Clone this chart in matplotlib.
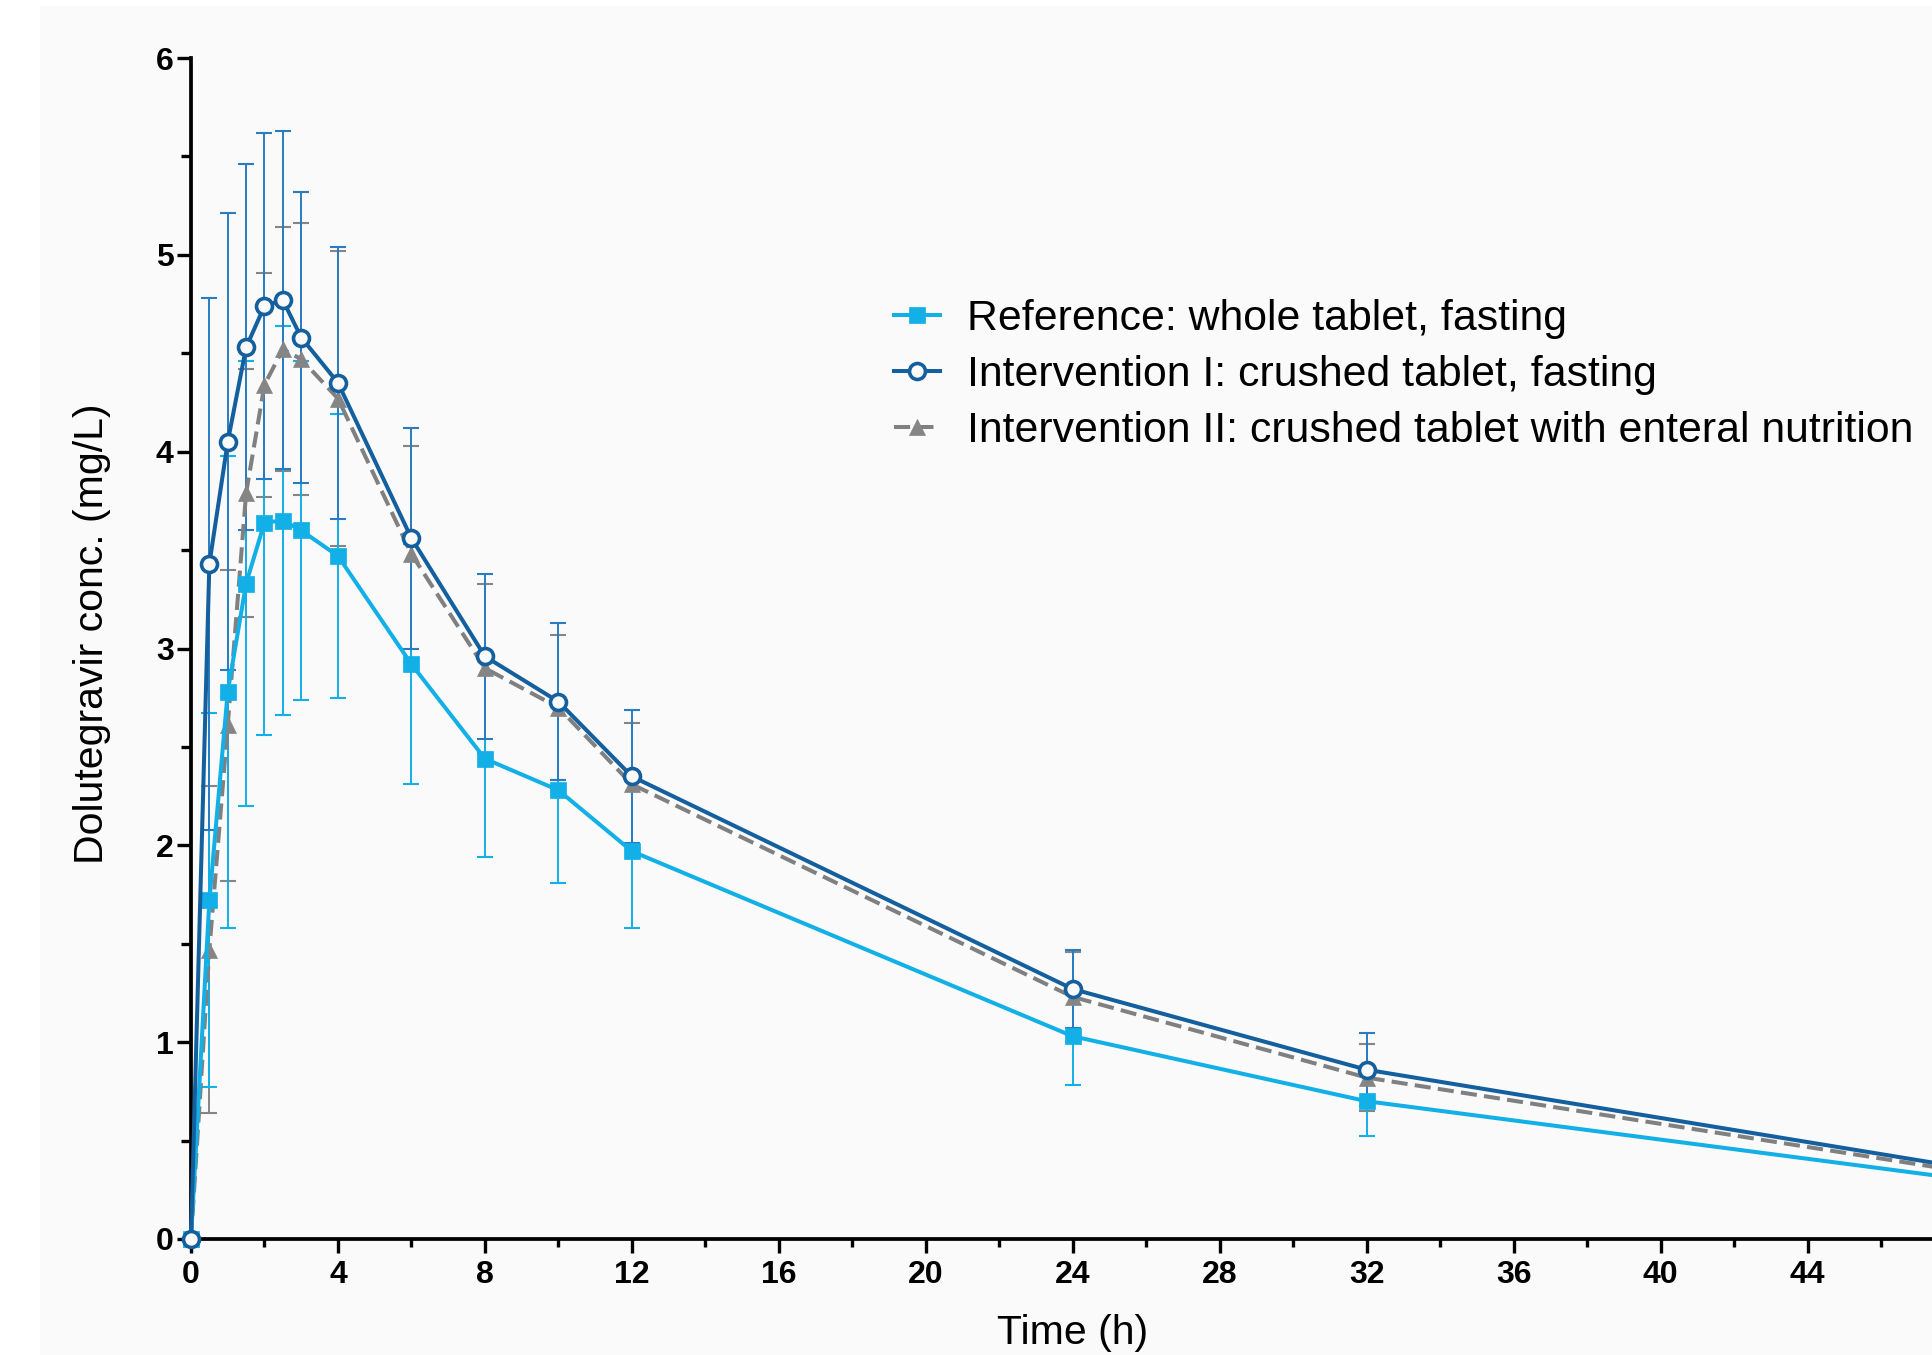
import matplotlib
matplotlib.use('Agg')
import matplotlib.pyplot as plt
from matplotlib.ticker import MultipleLocator, FixedLocator
from matplotlib.patches import Rectangle

# ---------------- data ----------------
time_h = [0, 0.5, 1, 1.5, 2, 2.5, 3, 4, 6, 8, 10, 12, 24, 32, 48]
ref_mean = [0, 1.72, 2.78, 3.33, 3.64, 3.65, 3.60, 3.47, 2.92, 2.44, 2.28, 1.97, 1.03, 0.70, 0.31]
ref_sd = [0, 0.95, 1.20, 1.13, 1.08, 0.99, 0.86, 0.72, 0.61, 0.50, 0.47, 0.39, 0.25, 0.175, 0.10]
int1_mean = [0, 3.43, 4.05, 4.53, 4.74, 4.77, 4.58, 4.35, 3.56, 2.96, 2.73, 2.35, 1.27, 0.86, 0.37]
int1_sd = [0, 1.35, 1.16, 0.93, 0.88, 0.86, 0.74, 0.69, 0.56, 0.42, 0.40, 0.34, 0.20, 0.185, 0.10]
int2_mean = [0, 1.47, 2.61, 3.79, 4.34, 4.52, 4.47, 4.27, 3.48, 2.90, 2.70, 2.31, 1.23, 0.82, 0.35]
int2_sd = [0, 0.83, 0.79, 0.63, 0.57, 0.62, 0.69, 0.75, 0.55, 0.43, 0.37, 0.31, 0.23, 0.17, 0.10]

labels = ["Reference: whole tablet, fasting",
          "Intervention I: crushed tablet, fasting",
          "Intervention II: crushed tablet with enteral nutrition"]
x_ticks = [0, 4, 8, 12, 16, 20, 24, 28, 32, 36, 40, 44]
y_ticks = [0, 1, 2, 3, 4, 5, 6]
x_label = "Time (h)"
y_label = "Dolutegravir conc. (mg/L)"

# ---------------- style ----------------
W, H = 1933, 1355
plt.rcParams['font.family'] = ['Liberation Sans', 'DejaVu Sans']
fig = plt.figure(figsize=(W / 100, H / 100), dpi=100)
fig.patch.set_facecolor('white')
bg = '#fafafa'
fig.patches.append(Rectangle((40 / W, 0), 1, 1 - 6 / H, transform=fig.transFigure,
                             facecolor=bg, edgecolor='none', zorder=-10))

x0, x1 = 191, 1954.5
y0, y1 = 1239, 58
ax = fig.add_axes([x0 / W, 1 - y0 / H, (x1 - x0) / W, (y0 - y1) / H])
ax.set_facecolor('none')

c_ref = '#12b0e6'
c_i1 = '#14609f'
c_i1e = '#2a7cc2'
c_i2 = '#858585'

lw = 2.9
eb = dict(elinewidth=1.4, capsize=6.0, capthick=1.5)

# Intervention II (gray dashed, triangles)
ax.errorbar(time_h, int2_mean, yerr=int2_sd, fmt='none', ecolor=c_i2, zorder=2, **eb)
l2, = ax.plot(time_h, int2_mean, color='#808080', lw=lw, ls=(0, (4.0, 1.8)),
              marker='^', ms=11.5, mfc=c_i2, mec=c_i2, mew=0.5, zorder=3,
              clip_on=False)
# Reference (cyan squares)
ax.errorbar(time_h, ref_mean, yerr=ref_sd, fmt='none', ecolor=c_ref, zorder=2, **eb)
l0, = ax.plot(time_h, ref_mean, color=c_ref, lw=lw, marker='s', ms=11.5,
              mfc=c_ref, mec=c_ref, mew=0.5, zorder=4, clip_on=False)
# Intervention I (dark blue open circles)
ax.errorbar(time_h, int1_mean, yerr=int1_sd, fmt='none', ecolor=c_i1e, zorder=2, **eb)
l1, = ax.plot(time_h, int1_mean, color=c_i1, lw=lw, marker='o', ms=11.5,
              mfc=bg, mec=c_i1, mew=2.6, zorder=5, clip_on=False)

ax.set_xlim(0, 48)
ax.set_ylim(0, 6)
ax.xaxis.set_major_locator(FixedLocator(x_ticks))
ax.xaxis.set_minor_locator(FixedLocator([v + 2 for v in x_ticks]))
ax.yaxis.set_major_locator(FixedLocator(y_ticks))
ax.yaxis.set_minor_locator(MultipleLocator(0.5))
ax.set_xticklabels([str(v) for v in x_ticks])
ax.set_yticklabels([str(v) for v in y_ticks])

for s in ['top', 'right']:
    ax.spines[s].set_visible(False)
for s in ['left', 'bottom']:
    ax.spines[s].set_linewidth(2.7)
    ax.spines[s].set_color('black')

ax.tick_params(axis='both', which='major', direction='out', length=10, width=2.4,
               labelsize=23, color='black')
ax.tick_params(axis='x', which='minor', direction='out', length=6, width=2.4)
ax.tick_params(axis='y', which='minor', direction='out', length=7, width=2.4)
ax.tick_params(axis='x', which='major', pad=5)
ax.tick_params(axis='y', which='major', pad=2.5)
for t in ax.get_xticklabels() + ax.get_yticklabels():
    t.set_fontweight('bold')

fig.text(1073 / W, 1 - 1344 / H, x_label, ha='center', va='baseline', fontsize=29.5)
fig.text(103 / W, 1 - 634 / H, y_label, ha='center', va='baseline', rotation=90,
         rotation_mode='anchor', fontsize=29.5)

leg = fig.legend([l0, l1, l2], labels, loc='upper left',
                 bbox_to_anchor=(894 / W, 1 - 299 / H), bbox_transform=fig.transFigure,
                 frameon=False, fontsize=30.8, borderpad=0, borderaxespad=0,
                 handlelength=1.08, handletextpad=0.62, labelspacing=0.37,
                 numpoints=1)

fig.savefig('out.png', dpi=100, facecolor='white')
